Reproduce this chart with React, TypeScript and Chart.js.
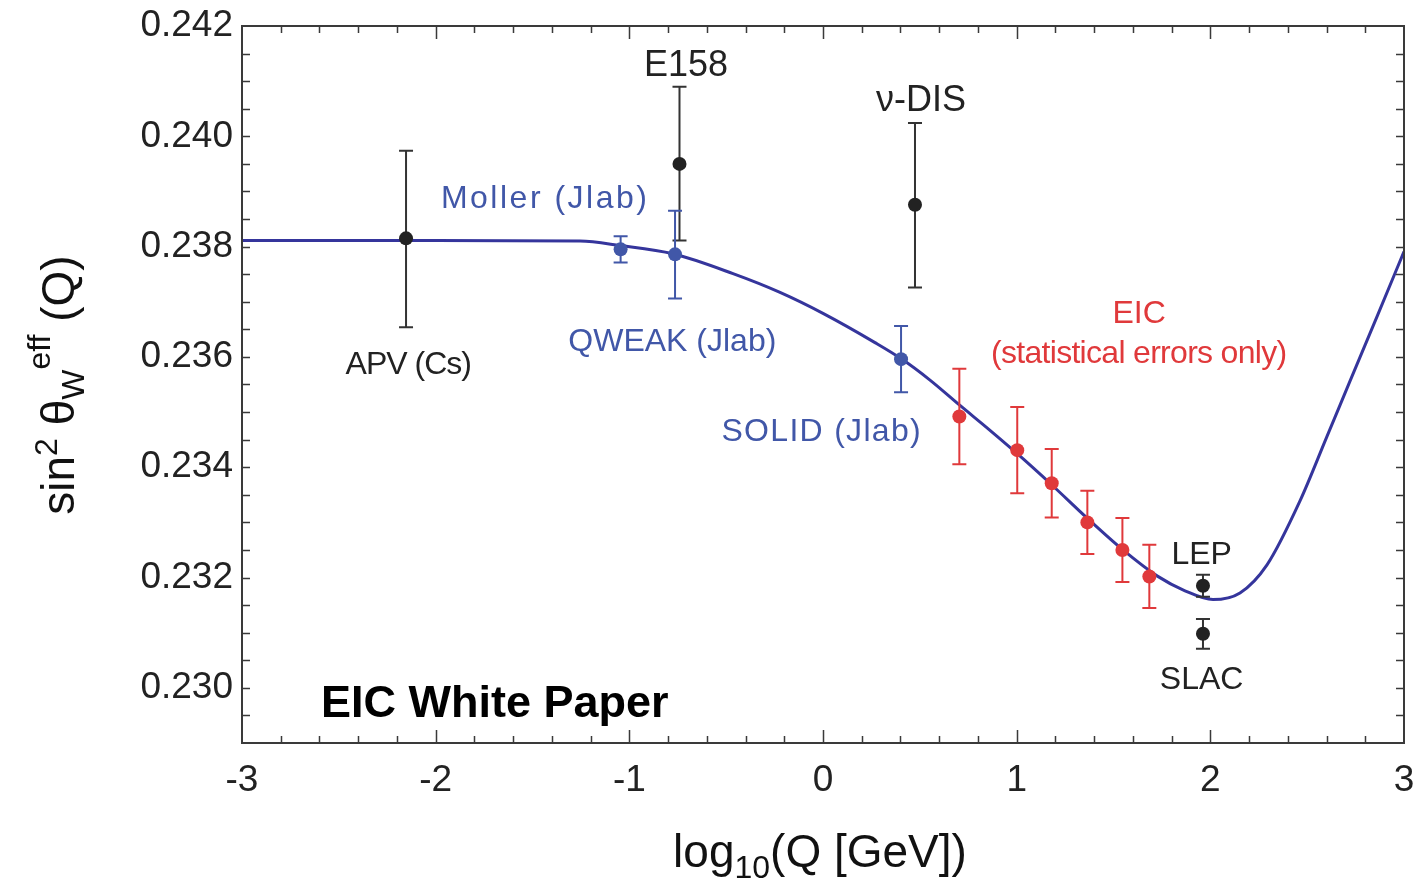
import React, { useEffect, useRef } from 'react';
import { Chart, registerables } from 'chart.js';

Chart.register(...registerables);

// ---------- data ----------
const X_TICKS = [-3, -2, -1, 0, 1, 2, 3];
const Y_TICKS = [0.23, 0.232, 0.234, 0.236, 0.238, 0.24, 0.242];

// theory curve sin^2 theta_W(Q)
const CURVE_X = [-3, -2, -1.2547, -1.0482, -0.7745, -0.4647, -0.222, 0, 0.2685, 0.4027, 0.5525, 0.7074, 0.8623, 1.0017, 1.1876, 1.3632, 1.549, 1.7246, 1.8692, 2.0137, 2.1531, 2.2926, 2.463, 2.6024, 2.7211, 2.8606, 3.0];
const CURVE_Y = [0.23811, 0.23811, 0.2381, 0.23802, 0.23787, 0.23751, 0.23717, 0.23679, 0.23626, 0.23597, 0.23558, 0.23512, 0.23467, 0.23425, 0.23366, 0.23308, 0.2325, 0.23203, 0.23176, 0.2316, 0.23172, 0.23223, 0.23339, 0.23456, 0.23556, 0.23673, 0.23791];

// existing measurements: APV (Cs), E158, nu-DIS, LEP, SLAC
const BLACK_X = [-2.153, -0.741, 0.475, 1.962, 1.962];
const BLACK_Y = [0.23815, 0.2395, 0.23876, 0.23185, 0.23098];
const BLACK_LO = [0.23654, 0.23811, 0.23726, 0.23165, 0.23071];
const BLACK_HI = [0.23974, 0.2409, 0.24024, 0.23205, 0.23125];

// JLab: Moller, QWEAK, SOLID
const BLUE_X = [-1.045, -0.764, 0.403];
const BLUE_Y = [0.23795, 0.23786, 0.23596];
const BLUE_LO = [0.23771, 0.23706, 0.23536];
const BLUE_HI = [0.23819, 0.23865, 0.23656];

// EIC projections (statistical errors only)
const RED_X = [0.704, 1.003, 1.181, 1.365, 1.546, 1.685];
const RED_Y = [0.23492, 0.23431, 0.23371, 0.233, 0.2325, 0.23202];
const RED_ERR = [0.000865, 0.000784, 0.00062, 0.000573, 0.000579, 0.000573];

// text labels
const LABEL_TEXT = ['E158', 'ν-DIS', 'Moller (Jlab)', 'APV (Cs)', 'QWEAK (Jlab)', 'SOLID (Jlab)', 'EIC', '(statistical errors only)', 'LEP', 'SLAC'];
const LABEL_X = [-0.707, 0.506, -1.441, -2.139, -0.778, -0.01, 1.632, 1.632, 1.955, 1.955];
const LABEL_Y = [0.241086, 0.240462, 0.238706, 0.235683, 0.2361, 0.234471, 0.236624, 0.235895, 0.232244, 0.229982];

const FONT = '"Liberation Sans", Arial, Helvetica, sans-serif';
const BLACK = '#222222';
const BLUE = '#4157a8';
const RED = '#e0393b';
const CURVE = '#35359c';

const LABEL_STYLE: { color: string; size: number; spacing: number }[] = [
  { color: BLACK, size: 36, spacing: 0 },
  { color: BLACK, size: 36, spacing: 0 },
  { color: BLUE, size: 32, spacing: 2.5 },
  { color: BLACK, size: 32, spacing: -1 },
  { color: BLUE, size: 32, spacing: 0 },
  { color: BLUE, size: 32, spacing: 1.3 },
  { color: RED, size: 32, spacing: 0 },
  { color: RED, size: 32, spacing: -0.7 },
  { color: BLACK, size: 32, spacing: 0 },
  { color: BLACK, size: 32, spacing: 0 },
];

type Seg = { t: string; s: number; dy: number };

function drawRich(ctx: CanvasRenderingContext2D, segs: Seg[], cx: number, cy: number, rot: number) {
  ctx.save();
  ctx.translate(cx, cy);
  ctx.rotate(rot);
  ctx.textBaseline = 'alphabetic';
  ctx.textAlign = 'left';
  ctx.fillStyle = '#111';
  let total = 0;
  for (const g of segs) {
    ctx.font = `${g.s}px ${FONT}`;
    total += ctx.measureText(g.t).width;
  }
  let x = -total / 2;
  for (const g of segs) {
    ctx.font = `${g.s}px ${FONT}`;
    ctx.fillText(g.t, x, g.dy);
    x += ctx.measureText(g.t).width;
  }
  ctx.restore();
}

const errorBarPlugin = {
  id: 'errorBars',
  afterDatasetDraw(chart: any, args: any) {
    if (args.index !== 0) return;
    const ctx = chart.ctx as CanvasRenderingContext2D;
    const xs = chart.scales.x;
    const ys = chart.scales.y;
    const draw = (x: number, lo: number, hi: number, color: string) => {
      const px = xs.getPixelForValue(x);
      const p1 = ys.getPixelForValue(lo);
      const p2 = ys.getPixelForValue(hi);
      ctx.save();
      ctx.strokeStyle = color;
      ctx.lineWidth = 2;
      ctx.beginPath();
      ctx.moveTo(px, p1);
      ctx.lineTo(px, p2);
      ctx.moveTo(px - 7, p1);
      ctx.lineTo(px + 7, p1);
      ctx.moveTo(px - 7, p2);
      ctx.lineTo(px + 7, p2);
      ctx.stroke();
      ctx.restore();
    };
    BLACK_X.forEach((x, i) => draw(x, BLACK_LO[i], BLACK_HI[i], '#333333'));
    BLUE_X.forEach((x, i) => draw(x, BLUE_LO[i], BLUE_HI[i], BLUE));
    RED_X.forEach((x, i) => draw(x, RED_Y[i] - RED_ERR[i], RED_Y[i] + RED_ERR[i], RED));
  },
};

const framePlugin = {
  id: 'frame',
  afterDraw(chart: any) {
    const ctx = chart.ctx as CanvasRenderingContext2D;
    const a = chart.chartArea;
    const xs = chart.scales.x;
    const ys = chart.scales.y;
    ctx.save();
    ctx.strokeStyle = '#3a3a3a';
    ctx.lineWidth = 2;
    ctx.strokeRect(a.left, a.top, a.right - a.left, a.bottom - a.top);
    ctx.lineWidth = 1.5;
    ctx.beginPath();
    for (let i = -14; i <= 14; i++) {
      const px = Math.round(xs.getPixelForValue(i * 0.2)) + 0.5;
      const len = i % 5 === 0 ? 13 : 7;
      ctx.moveTo(px, a.bottom);
      ctx.lineTo(px, a.bottom - len);
      ctx.moveTo(px, a.top);
      ctx.lineTo(px, a.top + len);
    }
    for (let j = 1; j < 26; j++) {
      const v = 0.229 + j * 0.0005;
      const py = Math.round(ys.getPixelForValue(v)) + 0.5;
      ctx.moveTo(a.left, py);
      ctx.lineTo(a.left + 8, py);
      ctx.moveTo(a.right, py);
      ctx.lineTo(a.right - 8, py);
    }
    ctx.stroke();
    ctx.restore();

    // in-plot labels
    LABEL_TEXT.forEach((t, i) => {
      const st = LABEL_STYLE[i];
      ctx.save();
      ctx.font = `${st.size}px ${FONT}`;
      (ctx as any).letterSpacing = `${st.spacing}px`;
      ctx.fillStyle = st.color;
      ctx.textAlign = 'center';
      ctx.textBaseline = 'alphabetic';
      ctx.fillText(t, xs.getPixelForValue(LABEL_X[i]) + st.spacing / 2, ys.getPixelForValue(LABEL_Y[i]));
      ctx.restore();
    });

    // "EIC White Paper"
    ctx.save();
    ctx.font = `bold 45px ${FONT}`;
    ctx.fillStyle = '#000';
    ctx.textAlign = 'left';
    ctx.textBaseline = 'alphabetic';
    ctx.fillText('EIC White Paper', xs.getPixelForValue(-2.592), ys.getPixelForValue(0.229475));
    ctx.restore();

    // axis titles
    drawRich(
      ctx,
      [
        { t: 'log', s: 46, dy: 0 },
        { t: '10', s: 32, dy: 11 },
        { t: '(Q [GeV])', s: 46, dy: 0 },
      ],
      820,
      867,
      0
    );
    drawRich(
      ctx,
      [
        { t: 'sin', s: 46, dy: 0 },
        { t: '2', s: 32, dy: -17 },
        { t: ' θ', s: 46, dy: 0 },
        { t: 'W', s: 32, dy: 10 },
        { t: 'eff', s: 32, dy: -24 },
        { t: ' (Q)', s: 46, dy: 0 },
      ],
      74,
      385,
      -Math.PI / 2
    );
  },
};

const zeroPad = (s: any) => {
  s.paddingLeft = 0;
  s.paddingRight = 0;
  s.paddingTop = 0;
  s.paddingBottom = 0;
};

export default function App() {
  const ref = useRef<HTMLCanvasElement>(null);
  useEffect(() => {
    const chart = new Chart(ref.current as HTMLCanvasElement, {
      type: 'scatter',
      data: {
        datasets: [
          {
            type: 'line',
            data: CURVE_X.map((x, i) => ({ x, y: CURVE_Y[i] })),
            borderColor: CURVE,
            borderWidth: 3,
            pointRadius: 0,
            cubicInterpolationMode: 'monotone',
            fill: false,
            order: 1,
          } as any,
          {
            data: BLACK_X.map((x, i) => ({ x, y: BLACK_Y[i] })),
            backgroundColor: BLACK,
            borderWidth: 0,
            pointRadius: 7,
            order: 0,
          },
          {
            data: BLUE_X.map((x, i) => ({ x, y: BLUE_Y[i] })),
            backgroundColor: BLUE,
            borderWidth: 0,
            pointRadius: 7,
            order: 0,
          },
          {
            data: RED_X.map((x, i) => ({ x, y: RED_Y[i] })),
            backgroundColor: RED,
            borderWidth: 0,
            pointRadius: 7,
            order: 0,
          },
        ],
      },
      options: {
        responsive: false,
        animation: false,
        devicePixelRatio: 1,
        layout: { padding: { top: 26, right: 16, left: 0, bottom: 0 } },
        plugins: { legend: { display: false }, tooltip: { enabled: false } },
        scales: {
          x: {
            type: 'linear',
            min: -3,
            max: 3,
            grid: { display: false, drawTicks: false },
            border: { display: false },
            afterBuildTicks: (s: any) => {
              s.ticks = X_TICKS.map((v) => ({ value: v }));
            },
            afterFit: (s: any) => {
              s.height = 137;
              zeroPad(s);
            },
            ticks: {
              color: BLACK,
              font: { family: FONT, size: 37 },
              padding: 16,
              maxRotation: 0,
              callback: (v: any) => String(v),
            },
          },
          y: {
            type: 'linear',
            min: 0.229,
            max: 0.242,
            grid: { display: false, drawTicks: false },
            border: { display: false },
            afterBuildTicks: (s: any) => {
              s.ticks = Y_TICKS.map((v) => ({ value: v }));
            },
            afterFit: (s: any) => {
              s.width = 242;
              zeroPad(s);
            },
            ticks: {
              color: BLACK,
              font: { family: FONT, size: 37 },
              padding: 9,
              callback: (v: any) => Number(v).toFixed(3),
            },
          },
        },
      },
      plugins: [errorBarPlugin, framePlugin],
    });
    return () => chart.destroy();
  }, []);
  return (
    <div style={{ position: 'fixed', left: 0, top: 0, width: 1420, height: 880, background: '#fff' }}>
      <canvas ref={ref} width={1420} height={880} style={{ display: 'block' }} />
    </div>
  );
}
